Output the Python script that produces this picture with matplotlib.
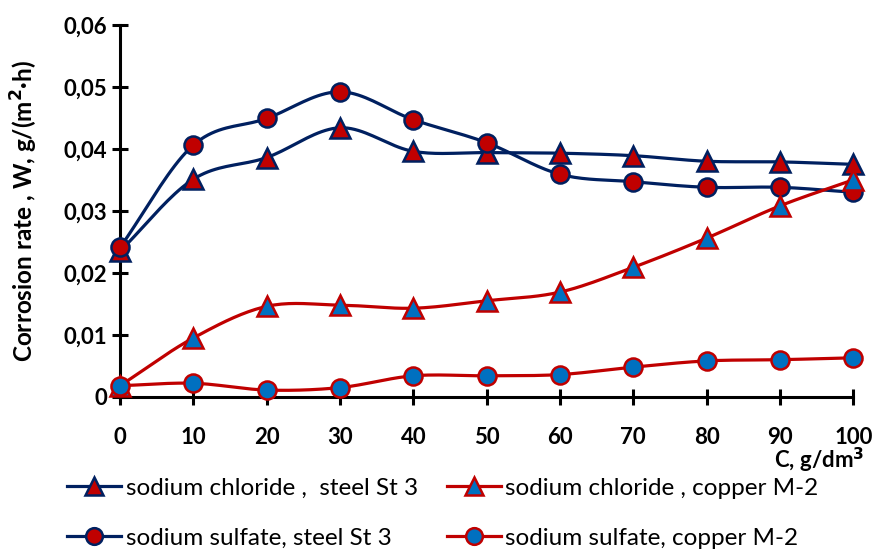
import matplotlib.pyplot as plt
import numpy as np

conc = [0, 10, 20, 30, 40, 50, 60, 70, 80, 90, 100]
nacl_steel = [0.0235, 0.0351, 0.0386, 0.0434, 0.0396, 0.0394, 0.0393, 0.0389, 0.0380, 0.0379, 0.0375]
na2so4_steel = [0.0241, 0.0406, 0.0449, 0.0492, 0.0447, 0.0410, 0.0359, 0.0347, 0.0338, 0.0338, 0.0330]
nacl_copper = [0.0018, 0.0095, 0.0146, 0.0148, 0.0143, 0.0155, 0.0169, 0.0209, 0.0256, 0.0308, 0.0350]
na2so4_copper = [0.0018, 0.0022, 0.0011, 0.0015, 0.0034, 0.0034, 0.0036, 0.0048, 0.0058, 0.0060, 0.0063]
ytick_vals = [0, 0.01, 0.02, 0.03, 0.04, 0.05, 0.06]
ytick_text = ['0', '0,01', '0,02', '0,03', '0,04', '0,05', '0,06']

navy = '#002060'
red = '#C00000'
blue = '#0070C0'


def smooth(x, y, n=20):
    # catmull-rom curve through the points, like excel's smoothed line
    x = np.asarray(x, float)
    y = np.asarray(y, float)
    px = np.concatenate([[2 * x[0] - x[1]], x, [2 * x[-1] - x[-2]]])
    py = np.concatenate([[2 * y[0] - y[1]], y, [2 * y[-1] - y[-2]]])
    xs, ys = [], []
    t = np.linspace(0, 1, n, endpoint=False)
    for i in range(1, len(px) - 2):
        for p, out in ((px, xs), (py, ys)):
            p0, p1, p2, p3 = p[i - 1], p[i], p[i + 1], p[i + 2]
            out.extend(0.5 * (2 * p1 + (-p0 + p2) * t
                              + (2 * p0 - 5 * p1 + 4 * p2 - p3) * t ** 2
                              + (-p0 + 3 * p1 - 3 * p2 + p3) * t ** 3))
    xs.append(x[-1])
    ys.append(y[-1])
    return xs, ys


plt.rcParams['font.family'] = ['Lato', 'DejaVu Sans']

fig = plt.figure(figsize=(8.76, 5.52), dpi=100)
ax = fig.add_axes([0.137, 0.281, 0.837, 0.674])

series = [
    (nacl_steel, navy, red, '^', 'sodium chloride ,  steel St 3'),
    (na2so4_steel, navy, red, 'o', 'sodium sulfate, steel St 3'),
    (nacl_copper, red, blue, '^', 'sodium chloride , copper M-2'),
    (na2so4_copper, red, blue, 'o', 'sodium sulfate, copper M-2'),
]
for vals, lc, fc, mk, lab in series:
    sx, sy = smooth(conc, vals)
    ms = 13 if mk == 'o' else 14
    ax.plot(sx, sy, color=lc, lw=2.3, clip_on=False, zorder=3)
    ax.plot(conc, vals, ls='none', marker=mk, ms=ms,
            mfc=fc, mec=lc, mew=1.8, clip_on=False, zorder=4)
    ax.plot([], [], color=lc, lw=2.3, marker=mk, ms=ms - 1,
            mfc=fc, mec=lc, mew=1.8, label=lab)

ax.set_xlim(0, 100)
ax.set_ylim(0, 0.06)
ax.set_xticks(conc)
ax.set_xticklabels([str(c) for c in conc], fontweight='bold', fontsize=16)
ax.set_yticks(ytick_vals)
ax.set_yticklabels(ytick_text, fontweight='bold', fontsize=16)
for s in ['top', 'right']:
    ax.spines[s].set_visible(False)
for s in ['left', 'bottom']:
    ax.spines[s].set_linewidth(2.2)
ax.tick_params(direction='inout', length=12, width=2.2)
ax.tick_params(axis='y', pad=3)
ax.tick_params(axis='x', pad=16)

ax.set_ylabel('Corrosion rate , W, g/(m$^{\\mathbf{2}}$·h)', fontsize=17.5,
              fontweight='bold', labelpad=17)
ax.text(1.015, -0.172, 'C, g/dm$^{\\mathbf{3}}$', transform=ax.transAxes, ha='right',
        va='center', fontsize=16, fontweight='bold')

fig.legend(loc='lower left', bbox_to_anchor=(0.052, -0.034), ncol=2, frameon=False,
           fontsize=17.5, handlelength=2.2, handletextpad=0.2, columnspacing=1.2,
           labelspacing=1.2)

fig.savefig('out.png', dpi=100)
